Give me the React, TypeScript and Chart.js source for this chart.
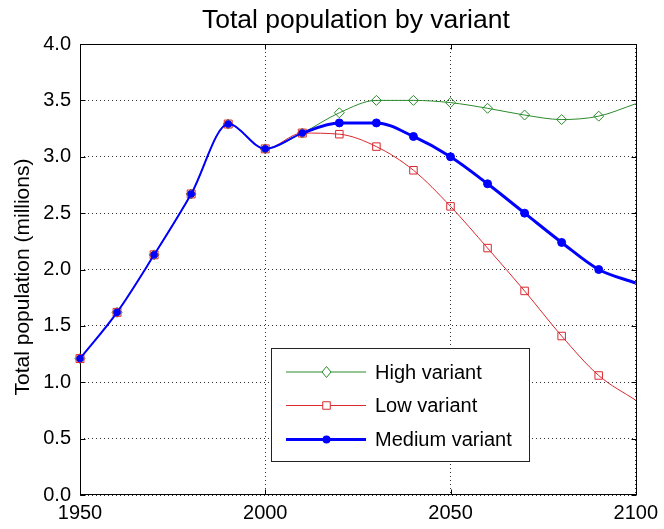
import { useEffect, useRef } from 'react';
import { Chart, registerables } from 'chart.js';

Chart.register(...registerables);

// Census years and projection horizon
const years = [1950, 1960, 1970, 1980, 1990, 2000, 2010, 2020, 2030, 2040, 2050, 2060, 2070, 2080, 2090, 2100];
const lastYear = 2100;
const baseYear = 2010;

// Observed population, 1950–2010 (millions)
const historical = [1.21, 1.62, 2.13, 2.67, 3.29, 3.07, 3.21];

// Projections, 2020–2100 (millions)
const highProjection = [3.39, 3.5, 3.5, 3.48, 3.43, 3.37, 3.33, 3.36, 3.47];
const lowProjection = [3.2, 3.09, 2.88, 2.56, 2.19, 1.81, 1.41, 1.06, 0.84];
const mediumProjection = [3.3, 3.3, 3.18, 3.0, 2.76, 2.5, 2.24, 2.0, 1.88];

const xTicks = [1950, 2000, 2050, 2100];
const yTicks = [0, 0.5, 1, 1.5, 2, 2.5, 3, 3.5, 4];

const titleText = 'Total population by variant';
const yLabelText = 'Total population (millions)';

const FONT = '"Liberation Sans", Arial, Helvetica, sans-serif';

type Marker = 'diamond' | 'square' | 'dot';

const series = [
  {
    label: 'High variant',
    values: [...historical, ...highProjection],
    color: '#2a8a2a',
    width: 1,
    histWidth: 1,
    marker: 'diamond' as Marker,
    pointStyle: 'rectRot',
    radius: 5,
    histRadius: 5,
    fill: 'rgba(0,0,0,0)',
    order: 3,
  },
  {
    label: 'Low variant',
    values: [...historical, ...lowProjection],
    color: '#d8282e',
    width: 1,
    histWidth: 1,
    marker: 'square' as Marker,
    pointStyle: 'rect',
    radius: 5.3,
    histRadius: 5.6,
    fill: 'rgba(0,0,0,0)',
    order: 2,
  },
  {
    label: 'Medium variant',
    values: [...historical, ...mediumProjection],
    color: '#0000ff',
    width: 3,
    histWidth: 2,
    marker: 'dot' as Marker,
    pointStyle: 'circle',
    radius: 4,
    histRadius: 3.3,
    fill: '#0000ff',
    order: 1,
  },
];

function drawMarker(ctx: CanvasRenderingContext2D, kind: Marker, x: number, y: number, color: string) {
  ctx.save();
  ctx.lineWidth = 1;
  ctx.strokeStyle = color;
  ctx.fillStyle = color;
  ctx.beginPath();
  if (kind === 'diamond') {
    ctx.moveTo(x - 4.5, y);
    ctx.lineTo(x, y - 5.5);
    ctx.lineTo(x + 4.5, y);
    ctx.lineTo(x, y + 5.5);
    ctx.closePath();
    ctx.fillStyle = '#fff';
    ctx.fill();
    ctx.stroke();
  } else if (kind === 'square') {
    ctx.rect(x - 3.75, y - 3.75, 7.5, 7.5);
    ctx.fillStyle = '#fff';
    ctx.fill();
    ctx.stroke();
  } else {
    ctx.arc(x, y, 4, 0, Math.PI * 2);
    ctx.fill();
  }
  ctx.restore();
}

// Solid axes box with inward tick marks, drawn under the data
const framePlugin = {
  id: 'frame',
  beforeDatasetsDraw(chart: any) {
    const { ctx, chartArea: a, scales } = chart;
    const left = Math.round(a.left) + 0.5;
    const top = Math.round(a.top) + 0.5;
    const right = Math.round(a.right) + 0.5;
    const bottom = Math.round(a.bottom) - 0.5;
    ctx.save();
    ctx.strokeStyle = '#000';
    ctx.lineWidth = 1;
    ctx.strokeRect(left, top, right - left, bottom - top);
    ctx.beginPath();
    for (const v of xTicks) {
      const px = Math.round(scales.x.getPixelForValue(v)) + 0.5;
      ctx.moveTo(px, bottom);
      ctx.lineTo(px, bottom - 5);
      ctx.moveTo(px, top);
      ctx.lineTo(px, top + 5);
    }
    for (const v of yTicks) {
      const py = Math.round(scales.y.getPixelForValue(v)) + 0.5;
      ctx.moveTo(left, py);
      ctx.lineTo(left + 5, py);
      ctx.moveTo(right, py);
      ctx.lineTo(right - 5, py);
    }
    ctx.stroke();
    ctx.restore();
  },
};

// Title, rotated y-axis label and the boxed legend
const textPlugin = {
  id: 'texts',
  afterDraw(chart: any) {
    const { ctx, chartArea: a } = chart;
    ctx.save();
    ctx.fillStyle = '#000';
    ctx.font = `26.5px ${FONT}`;
    ctx.textAlign = 'center';
    ctx.textBaseline = 'alphabetic';
    ctx.fillText(titleText, (a.left + a.right) / 2 - 2, 28);

    ctx.save();
    ctx.translate(28.5, 277);
    ctx.rotate(-Math.PI / 2);
    ctx.font = `21px ${FONT}`;
    ctx.fillText(yLabelText, 0, 0);
    ctx.restore();

    // legend box
    const bx = 271.5;
    const by = 348.5;
    const bw = 258;
    const bh = 113;
    ctx.fillStyle = '#fff';
    ctx.fillRect(bx, by, bw, bh);
    ctx.strokeStyle = '#222';
    ctx.lineWidth = 1;
    ctx.strokeRect(bx, by, bw, bh);

    const rows = [372, 405.5, 439.5];
    series.forEach((s, i) => {
      const y = rows[i];
      ctx.save();
      ctx.strokeStyle = s.color;
      ctx.lineWidth = s.width;
      ctx.beginPath();
      ctx.moveTo(286, y);
      ctx.lineTo(366, y);
      ctx.stroke();
      ctx.restore();
      drawMarker(ctx, s.marker, 326.5, y, s.color);
      ctx.fillStyle = '#000';
      ctx.font = `20px ${FONT}`;
      ctx.textAlign = 'left';
      ctx.textBaseline = 'middle';
      ctx.fillText(s.label, 375, y + 1);
    });
    ctx.restore();
  },
};

export default function App() {
  const ref = useRef<HTMLCanvasElement>(null);

  useEffect(() => {
    const canvas = ref.current;
    if (!canvas) return;
    const gridColor = 'rgba(0,0,0,0.8)';
    const chart = new Chart(canvas, {
      type: 'line',
      data: {
        datasets: series.map((s) => ({
          label: s.label,
          data: years.map((x, j) => ({ x, y: s.values[j] })),
          borderColor: s.color,
          borderWidth: s.width,
          segment: {
            borderWidth: (c: any) => (c.p0.parsed.x < baseYear ? s.histWidth : s.width),
          },
          backgroundColor: s.fill,
          pointStyle: s.pointStyle as any,
          pointRadius: years.map((y) => (y === lastYear ? 0 : y <= baseYear ? s.histRadius : s.radius)),
          pointBorderColor: s.color,
          pointBackgroundColor: s.fill,
          pointBorderWidth: 1,
          cubicInterpolationMode: 'monotone' as const,
          fill: false,
          clip: false as any,
          order: s.order,
        })),
      },
      options: {
        responsive: false,
        animation: false,
        devicePixelRatio: 1,
        events: [],
        layout: { padding: { left: 0, top: 44, right: 24, bottom: 0 } },
        plugins: {
          legend: { display: false },
          tooltip: { enabled: false },
          title: { display: false },
        },
        scales: {
          x: {
            type: 'linear',
            min: 1950,
            max: 2100,
            afterBuildTicks: (scale: any) => {
              scale.ticks = xTicks.map((value) => ({ value }));
            },
            afterFit: (scale: any) => {
              scale.height = 34;
            },
            grid: { color: gridColor, lineWidth: 1, drawTicks: false },
            border: { display: false, dash: [1, 3] },
            ticks: {
              autoSkip: false,
              maxRotation: 0,
              padding: 6,
              color: '#000',
              font: { family: FONT, size: 20 },
              callback: (v: any) => String(v),
            },
          },
          y: {
            type: 'linear',
            min: 0,
            max: 4,
            afterBuildTicks: (scale: any) => {
              scale.ticks = yTicks.map((value) => ({ value }));
            },
            afterFit: (scale: any) => {
              scale.width = 80;
            },
            grid: { color: gridColor, lineWidth: 1, drawTicks: false },
            border: { display: false, dash: [1, 3] },
            ticks: {
              autoSkip: false,
              padding: 9,
              color: '#000',
              font: { family: FONT, size: 20 },
              callback: (v: any) => Number(v).toFixed(1),
            },
          },
        },
      },
      plugins: [framePlugin, textPlugin],
    });
    return () => chart.destroy();
  }, []);

  return (
    <div style={{ position: 'fixed', left: 0, top: 0, width: 664, height: 529, background: '#fff' }}>
      <canvas ref={ref} width={664} height={529} style={{ display: 'block' }} />
    </div>
  );
}
